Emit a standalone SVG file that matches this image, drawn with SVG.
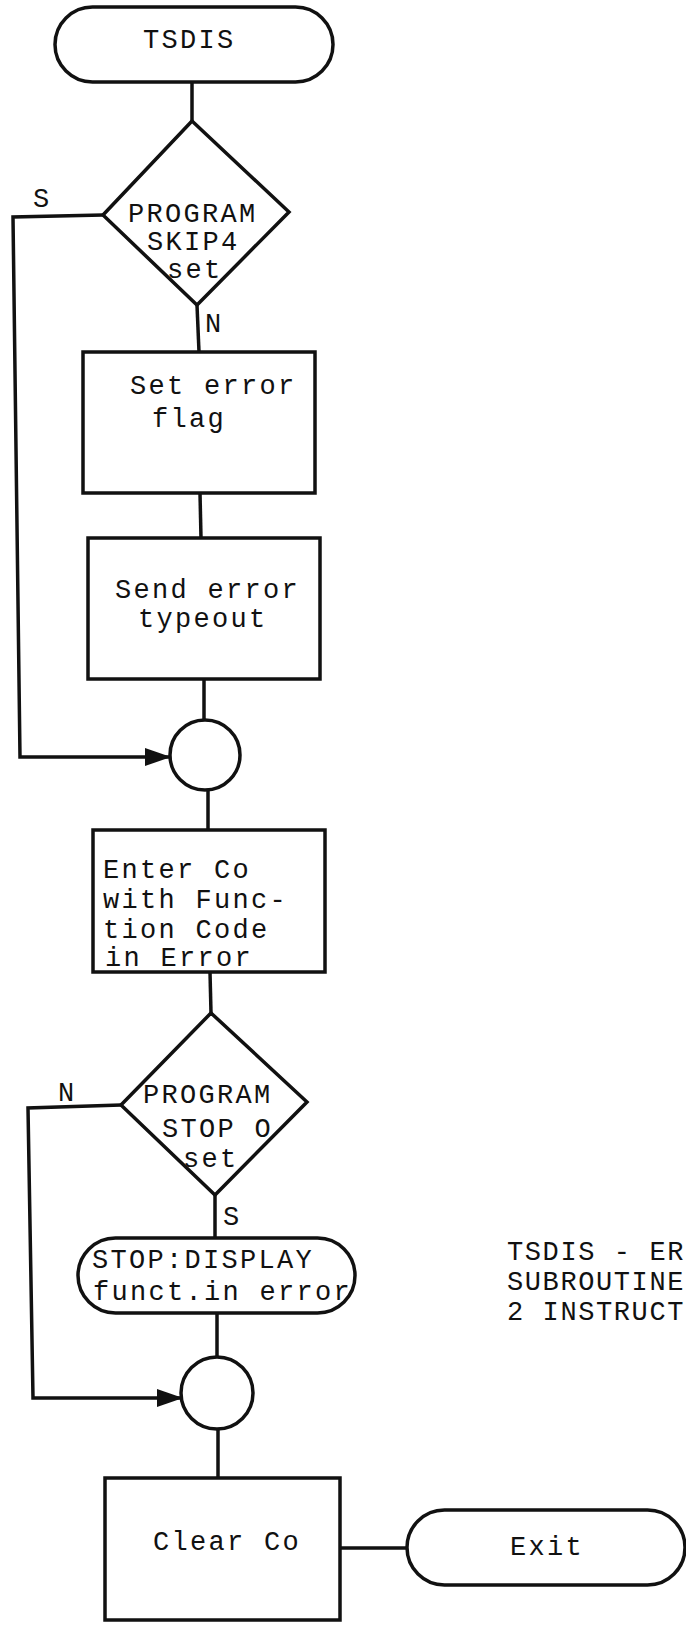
<svg xmlns="http://www.w3.org/2000/svg" width="686" height="1628" viewBox="0 0 686 1628">
<style>
.s{fill:#fff;stroke:#111;stroke-width:3.5}
.c{fill:none;stroke:#111;stroke-width:3.5}
.t{font-family:"Liberation Mono","Courier New",monospace;font-size:27px;letter-spacing:2.3px;fill:#111}
.cap{letter-spacing:1.6px}
</style>
<defs>
<marker id="ah" markerUnits="userSpaceOnUse" markerWidth="26" markerHeight="18" refX="25" refY="9" orient="auto">
<path d="M0 0 L26 9 L0 18 Z" fill="#111"/>
</marker>
</defs>
<rect width="686" height="1628" fill="#fff"/>
<g id="connectors">
<path class="c" d="M192 82 V121"/>
<path class="c" d="M103 215 L13 217 L20 757 L170 757" marker-end="url(#ah)"/>
<path class="c" d="M197 305 L199 352"/>
<path class="c" d="M200 493 L201 538"/>
<path class="c" d="M204 679 V720"/>
<path class="c" d="M208 790 V830"/>
<path class="c" d="M210 972 L211 1013"/>
<path class="c" d="M121 1105 L28 1108 L33 1398 L182 1398" marker-end="url(#ah)"/>
<path class="c" d="M215 1195 V1238"/>
<path class="c" d="M217 1313 V1357"/>
<path class="c" d="M218 1429 V1478"/>
<path class="c" d="M340 1548 H407"/>
<text class="t" x="33" y="207">S</text>
<text class="t" x="205" y="332">N</text>
<text class="t" x="58" y="1101">N</text>
<text class="t" x="223" y="1225">S</text>
</g>
<g id="start">
<rect class="s" x="55" y="7" width="278" height="75" rx="37.5"/>
<text class="t" x="143" y="48">TSDIS</text>
</g>
<g id="decision1">
<polygon class="s" points="192,121 289,212 197,305 103,215"/>
<text class="t" x="128" y="222">PROGRAM</text>
<text class="t" x="147" y="250">SKIP4</text>
<text class="t" x="167" y="278">set</text>
</g>
<g id="set-error-flag">
<rect class="s" x="83" y="352" width="232" height="141"/>
<text class="t" x="130" y="394">Set error</text>
<text class="t" x="152" y="427">flag</text>
</g>
<g id="send-error-typeout">
<rect class="s" x="88" y="538" width="232" height="141"/>
<text class="t" x="115" y="598">Send error</text>
<text class="t" x="138" y="627">typeout</text>
</g>
<g id="join1">
<circle class="s" cx="205" cy="755" r="35"/>
</g>
<g id="enter-co">
<rect class="s" x="93" y="830" width="232" height="142"/>
<text class="t" x="103" y="878">Enter Co</text>
<text class="t" x="103" y="908">with Func-</text>
<text class="t" x="103" y="938">tion Code</text>
<text class="t" x="105" y="966">in Error</text>
</g>
<g id="decision2">
<polygon class="s" points="211,1013 307,1102 215,1195 121,1105"/>
<text class="t" x="143" y="1103">PROGRAM</text>
<text class="t" x="162" y="1137">STOP O</text>
<text class="t" x="183" y="1167">set</text>
</g>
<g id="stop-display">
<rect class="s" x="78" y="1238" width="277" height="75" rx="37.5"/>
<text class="t" x="92" y="1268">STOP:DISPLAY</text>
<text class="t" x="93" y="1300">funct.in error</text>
</g>
<g id="join2">
<circle class="s" cx="217" cy="1393" r="36"/>
</g>
<g id="clear-co">
<rect class="s" x="105" y="1478" width="235" height="142"/>
<text class="t" x="153" y="1550">Clear Co</text>
</g>
<g id="exit">
<rect class="s" x="407" y="1510" width="278" height="75" rx="37.5"/>
<text class="t" x="510" y="1555">Exit</text>
</g>
<g id="caption">
<text class="t cap" x="507" y="1260">TSDIS - ER</text>
<text class="t cap" x="507" y="1290">SUBROUTINE</text>
<text class="t cap" x="507" y="1320">2 INSTRUCT</text>
</g>
</svg>
